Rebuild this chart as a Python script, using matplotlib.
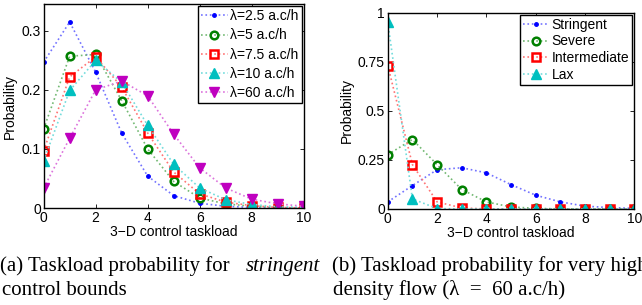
import numpy as np
import matplotlib
matplotlib.use("Agg")
import matplotlib.pyplot as plt
from matplotlib.colors import to_rgb

plt.rcParams["font.family"] = ["Liberation Sans", "DejaVu Sans"]

taskload = np.arange(0, 11)

# (a) stringent control bounds, different flow densities
p_2_5 = [0.247, 0.315, 0.230, 0.127, 0.054, 0.021, 0.008, 0.003, 0.001, 0.0, 0.0]
p_5 = [0.134, 0.257, 0.260, 0.182, 0.100, 0.045, 0.017, 0.007, 0.003, 0.001, 0.0]
p_7_5 = [0.097, 0.222, 0.256, 0.205, 0.127, 0.061, 0.024, 0.010, 0.004, 0.001, 0.0]
p_10 = [0.080, 0.199, 0.250, 0.213, 0.140, 0.074, 0.034, 0.014, 0.006, 0.002, 0.001]
p_60 = [0.034, 0.118, 0.200, 0.215, 0.190, 0.125, 0.068, 0.034, 0.015, 0.007, 0.003]
labels_a = ["λ=2.5 a.c/h", "λ=5 a.c/h", "λ=7.5 a.c/h", "λ=10 a.c/h", "λ=60 a.c/h"]

# (b) very high density flow, different control bounds
p_stringent = [0.036, 0.119, 0.200, 0.210, 0.184, 0.124, 0.070, 0.036, 0.014, 0.007, 0.003]
p_severe = [0.277, 0.354, 0.226, 0.099, 0.036, 0.010, 0.003, 0.0, 0.0, 0.0, 0.0]
p_intermediate = [0.731, 0.226, 0.036, 0.005, 0.0, 0.0, 0.0, 0.0, 0.0, 0.0, 0.0]
p_lax = [0.952, 0.051, 0.002, 0.0, 0.0, 0.0, 0.0, 0.0, 0.0, 0.0, 0.0]
labels_b = ["Stringent", "Severe", "Intermediate", "Lax"]

# matlab style: color, marker, size, filled
styles = [
    ("#0000ff", ".", 5, True),
    ("#008000", "o", 5.5, False),
    ("#ff0000", "s", 5.5, False),
    ("#00bfbf", "^", 7, True),
    ("#bf00bf", "v", 7, True),
]

FS = 10


def light(c, f=0.45):
    r, g, b = to_rgb(c)
    return (r + (1 - r) * f, g + (1 - g) * f, b + (1 - b) * f)


def draw(ax, series, labels, spacing):
    for y, lab, (c, m, ms, filled) in zip(series, labels, styles):
        ax.plot(taskload, y, linestyle=":", color=light(c), linewidth=1.2,
                marker=m, markersize=ms, markeredgecolor=c,
                markerfacecolor=c if filled else "none",
                markeredgewidth=1.8 if not filled else 1.0, label=lab)
    ax.set_xlim(0, 10)
    ax.set_xticks([0, 2, 4, 6, 8, 10])
    ax.tick_params(direction="in", top=True, right=True, labelsize=FS,
                   length=3, width=0.6, pad=2)
    for s in ax.spines.values():
        s.set_linewidth(1.0)
    ax.set_xlabel("3\u2212D control taskload", fontsize=FS, labelpad=0)
    ax.set_ylabel("Probability", fontsize=FS, labelpad=3)
    leg = ax.legend(loc="upper right", fontsize=FS, fancybox=False,
                    framealpha=1, edgecolor="black", borderaxespad=0.15,
                    handlelength=1.9, handletextpad=0.2, labelspacing=spacing,
                    borderpad=0.2)
    leg.get_frame().set_linewidth(1.0)


fig = plt.figure(figsize=(6.42, 3.05), dpi=100)

ax1 = fig.add_axes([0.068, 0.318, 0.405, 0.668])
draw(ax1, [p_2_5, p_5, p_7_5, p_10, p_60], labels_a, 0.38)
ax1.set_ylim(0, 0.345)
ax1.set_yticks([0, 0.1, 0.2, 0.3])
ax1.set_yticklabels(["0", "0.1", "0.2", "0.3"])

ax2 = fig.add_axes([0.604, 0.315, 0.384, 0.643])
draw(ax2, [p_stringent, p_severe, p_intermediate, p_lax], labels_b, 0.2)
ax2.set_ylim(0, 1)
ax2.set_yticks([0, 0.25, 0.5, 0.75, 1])
ax2.set_yticklabels(["0", "0.25", "0.5", "0.75", "1"])

# sub-figure captions (serif, like the paper)
serif = ["Liberation Serif", "DejaVu Serif"]
cs = 15
y1, y2 = 0.1115, 0.033
fig.text(0.0, y1, "(a) Taskload probability for", family=serif, fontsize=cs,
         va="baseline")
fig.text(0.4985, y1, "stringent", family=serif, fontsize=cs, style="italic",
         va="baseline", ha="right")
fig.text(0.003, y2, "control bounds", family=serif, fontsize=cs, va="baseline")
fig.text(0.517, y1, "(b) Taskload probability for very high", family=serif,
         fontsize=cs, va="baseline")
fig.text(0.519, y2, "density flow (λ  =  60 a.c/h)", family=serif, fontsize=cs,
         va="baseline")

fig.savefig("out.png", dpi=100)
